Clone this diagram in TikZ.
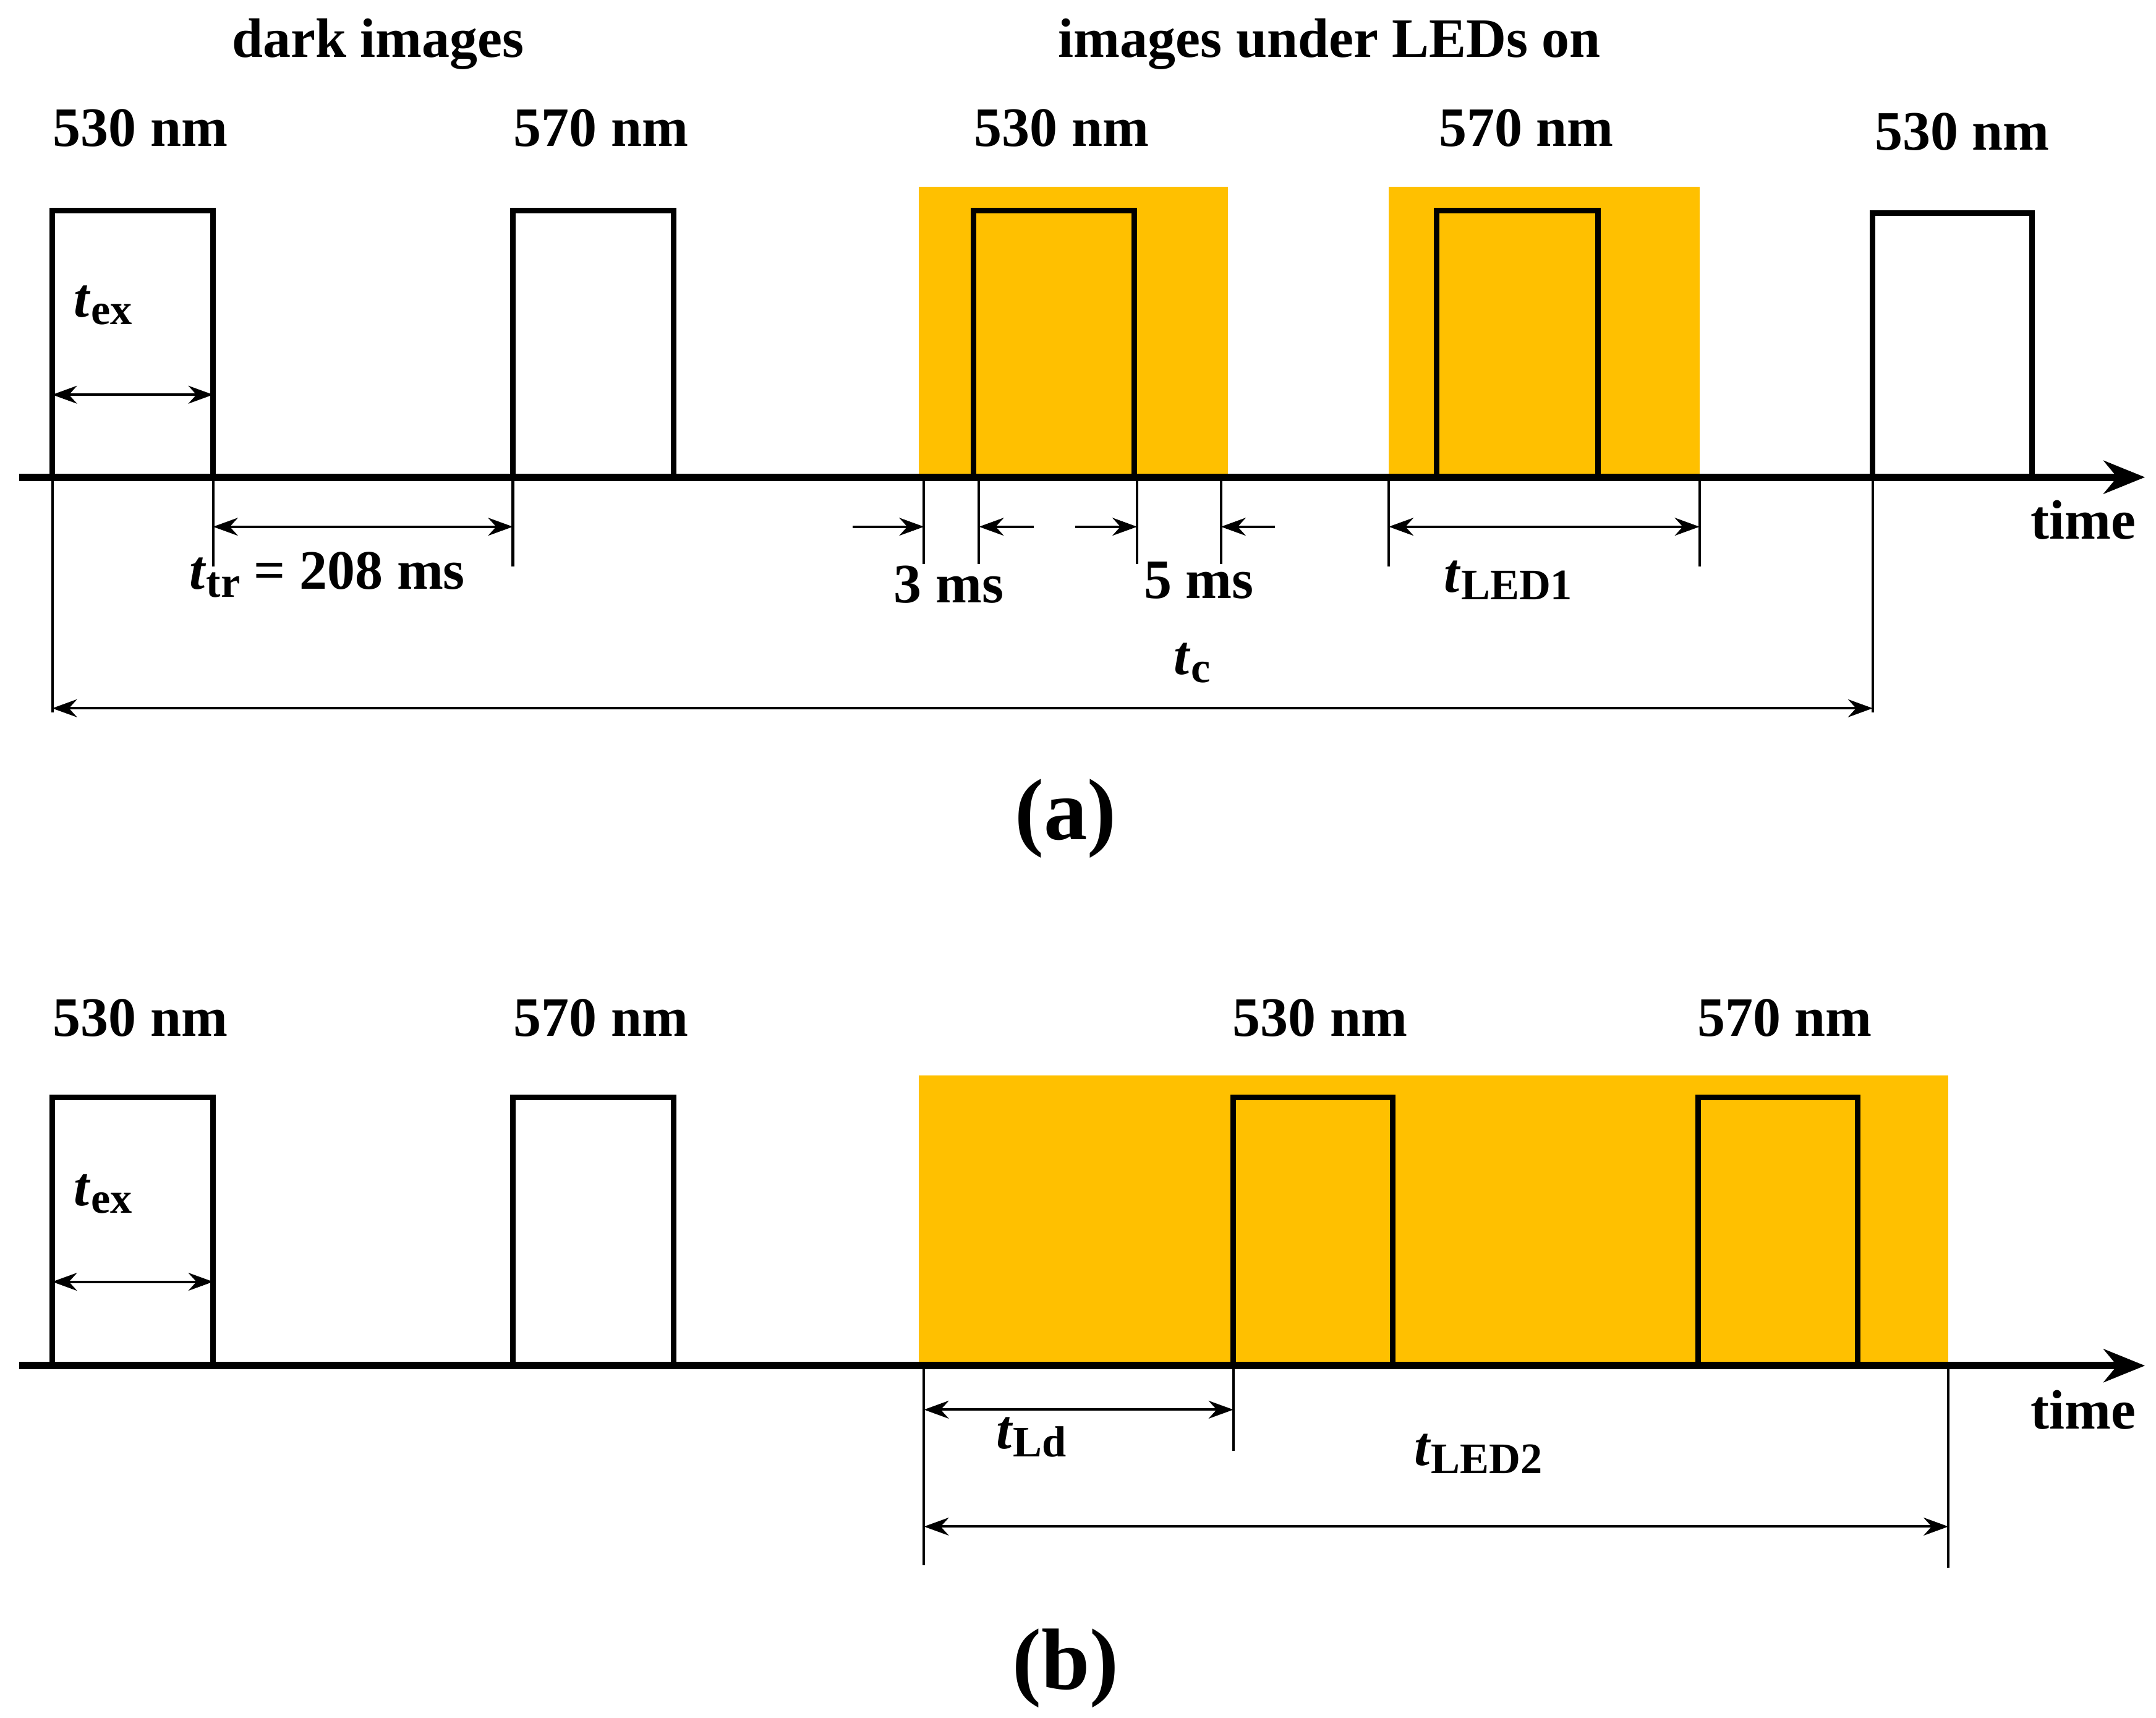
\documentclass[tikz,border=0pt]{standalone}
\usepackage{fontspec}
\setmainfont{Liberation Serif}
\usetikzlibrary{arrows.meta}
\definecolor{led}{HTML}{FFC000}
\begin{document}
\begin{tikzpicture}[x=0.01cm,y=-0.01cm,
  pulse/.style={line width=0.4mm},
  axis/.style={line width=0.55mm,-{Stealth[length=3mm,width=2.4mm]}},
  dim/.style={line width=0.18mm,{Stealth[length=1.8mm,width=1.3mm]}-{Stealth[length=1.8mm,width=1.3mm]}},
  sarr/.style={line width=0.18mm,-{Stealth[length=1.8mm,width=1.3mm]}},
  tick/.style={line width=0.18mm},
  lbl/.style={font=\bfseries\fontsize{11.5}{14}\selectfont,inner sep=0pt},
  big/.style={font=\bfseries\fontsize{18}{22}\selectfont,inner sep=0pt}]
\useasboundingbox (0,0) rectangle (1568,1249);
% ---------- (a)
\fill[led] (668,136) rectangle (893,347);
\fill[led] (1010,136) rectangle (1236,347);
\foreach \a/\b in {38/155,373/490,708/825,1045/1162}
  \draw[pulse] (\a,347) -- (\a,153) -- (\b,153) -- (\b,347);
\draw[pulse] (1362,347) -- (1362,155) -- (1478,155) -- (1478,347);
\coordinate (axa0) at (14,347); \coordinate (axa1) at (1560,347);
\draw[axis] (axa0) -- (axa1);
\node[lbl] (dark) at (275,32) {dark images};
\node[lbl] (under) at (967,32) {images under LEDs on};
\node[lbl] (a1) at (102,93) {530 nm};
\node[lbl] (a2) at (437,93) {570 nm};
\node[lbl] (a3) at (772,93) {530 nm};
\node[lbl] (a4) at (1110,93) {570 nm};
\node[lbl] (a5) at (1427,96) {530 nm};
\node[lbl] (timea) at (1515,378) {time};
\node[lbl] (texa) at (75,222) {\textit{t}\raisebox{-0.3ex}{\small ex}};
\draw[dim] (38,287) -- (155,287);
\draw[tick] (155,347) -- (155,412); \draw[tick] (373,347) -- (373,412);
\draw[dim] (155,383) -- (373,383);
\node[lbl] (ttr) at (238,418) {\textit{t}\raisebox{-0.3ex}{\small tr} = 208 ms};
\draw[tick] (672,347) -- (672,410); \draw[tick] (712,347) -- (712,410);
\draw[sarr] (620,383) -- (672,383); \draw[sarr] (752,383) -- (712,383);
\node[lbl] (three) at (690,425) {3 ms};
\draw[tick] (827,347) -- (827,410); \draw[tick] (888,347) -- (888,410);
\draw[sarr] (782,383) -- (827,383); \draw[sarr] (927,383) -- (888,383);
\node[lbl] (five) at (872,422) {5 ms};
\draw[tick] (1010,347) -- (1010,412); \draw[tick] (1236,347) -- (1236,412);
\draw[dim] (1010,383) -- (1236,383);
\node[lbl] (tled1) at (1097,422) {\textit{t}\raisebox{-0.3ex}{\small LED1}};
\draw[tick] (38,347) -- (38,518); \draw[tick] (1362,347) -- (1362,518);
\draw[dim] (38,515) -- (1362,515);
\node[lbl] (tc) at (867,482) {\textit{t}\raisebox{-0.3ex}{\small c}};
\node[big] (capa) at (775,595) {(a)};
% ---------- (b)
\fill[led] (668,782) rectangle (1417,993);
\foreach \a/\b in {38/155,373/490,897/1013,1235/1351}
  \draw[pulse] (\a,993) -- (\a,798) -- (\b,798) -- (\b,993);
\coordinate (axb0) at (14,993); \coordinate (axb1) at (1560,993);
\draw[axis] (axb0) -- (axb1);
\node[lbl] (b1) at (102,740) {530 nm};
\node[lbl] (b2) at (437,740) {570 nm};
\node[lbl] (b3) at (960,740) {530 nm};
\node[lbl] (b4) at (1298,740) {570 nm};
\node[lbl] (timeb) at (1515,1025) {time};
\node[lbl] (texb) at (75,868) {\textit{t}\raisebox{-0.3ex}{\small ex}};
\draw[dim] (38,932) -- (155,932);
\draw[tick] (672,993) -- (672,1138); \draw[tick] (897,993) -- (897,1055);
\draw[tick] (1417,993) -- (1417,1140);
\draw[dim] (672,1025) -- (897,1025);
\node[lbl] (tld) at (750,1045) {\textit{t}\raisebox{-0.3ex}{\small Ld}};
\draw[dim] (672,1110) -- (1417,1110);
\node[lbl] (tled2) at (1075,1057) {\textit{t}\raisebox{-0.3ex}{\small LED2}};
\node[big] (capb) at (775,1213) {(b)};
\end{tikzpicture}
\end{document}
